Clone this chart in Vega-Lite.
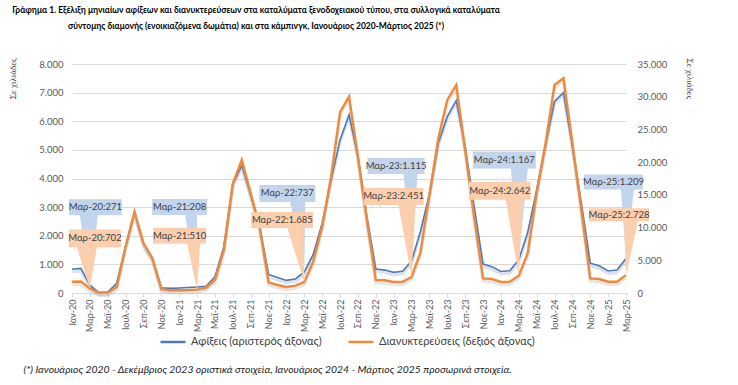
{
  "$schema": "https://vega.github.io/schema/vega-lite/v6.json",
  "width": 554,
  "height": 229,
  "autosize": {"type": "none"},
  "padding": {"left": 72, "top": 64, "right": 112, "bottom": 92},
  "background": "white",
  "config": {
    "font": "Lato",
    "view": {"stroke": null},
    "axis": {"labelFont": "Lato", "titleFont": "Lato", "labelColor": "#595959", "titleColor": "#404040", "titleFontWeight": "normal"},
    "text": {"font": "Lato"}
  },
  "title": {
    "text": "Γράφημα 1. Εξέλιξη μηνιαίων αφίξεων και διανυκτερεύσεων στα καταλύματα ξενοδοχειακού τύπου, στα συλλογικά καταλύματα",
    "subtitle": "σύντομης διαμονής (ενοικιαζόμενα δωμάτια) και στα κάμπινγκ, Ιανουάριος 2020-Μάρτιος 2025 (*)",
    "font": "Lato",
    "fontSize": 8.5,
    "fontWeight": "bold",
    "color": "#000000",
    "subtitleFont": "Lato",
    "subtitleFontSize": 8.5,
    "subtitleFontWeight": "bold",
    "subtitleColor": "#000000",
    "subtitlePadding": 7,
    "anchor": "middle",
    "frame": "group",
    "dx": -93,
    "offset": 28,
    "limit": 700
  },
  "data": {"values": [
    {"month":"Ιαν-20","arr":830,"stay":1730},
    {"month":"Φεβ-20","arr":860,"stay":1750},
    {"month":"Μαρ-20","arr":271,"stay":702,"arr_lbl":"Μαρ-20:271","stay_lbl":"Μαρ-20:702"},
    {"month":"Απρ-20","arr":20,"stay":60},
    {"month":"Μαϊ-20","arr":30,"stay":90},
    {"month":"Ιουν-20","arr":340,"stay":870},
    {"month":"Ιουλ-20","arr":1630,"stay":7080},
    {"month":"Αυγ-20","arr":2840,"stay":12420},
    {"month":"Σεπ-20","arr":1740,"stay":7600},
    {"month":"Οκτ-20","arr":1210,"stay":5300},
    {"month":"Νοε-20","arr":185,"stay":610},
    {"month":"Δεκ-20","arr":160,"stay":410},
    {"month":"Ιαν-21","arr":175,"stay":410},
    {"month":"Φεβ-21","arr":190,"stay":440},
    {"month":"Μαρ-21","arr":208,"stay":510,"arr_lbl":"Μαρ-21:208","stay_lbl":"Μαρ-21:510"},
    {"month":"Απρ-21","arr":230,"stay":810},
    {"month":"Μαϊ-21","arr":570,"stay":1990},
    {"month":"Ιουν-21","arr":1620,"stay":6570},
    {"month":"Ιουλ-21","arr":3810,"stay":16770},
    {"month":"Αυγ-21","arr":4450,"stay":20340},
    {"month":"Σεπ-21","arr":3430,"stay":15240},
    {"month":"Οκτ-21","arr":2320,"stay":10140},
    {"month":"Νοε-21","arr":650,"stay":1630},
    {"month":"Δεκ-21","arr":540,"stay":1220},
    {"month":"Ιαν-22","arr":440,"stay":920},
    {"month":"Φεβ-22","arr":490,"stay":1120},
    {"month":"Μαρ-22","arr":737,"stay":1685,"arr_lbl":"Μαρ-22:737","stay_lbl":"Μαρ-22:1.685"},
    {"month":"Απρ-22","arr":1350,"stay":4790},
    {"month":"Μαϊ-22","arr":2440,"stay":10140},
    {"month":"Ιουν-22","arr":3950,"stay":17780},
    {"month":"Ιουλ-22","arr":5350,"stay":27630},
    {"month":"Αυγ-22","arr":6220,"stay":30020},
    {"month":"Σεπ-22","arr":4770,"stay":20840},
    {"month":"Οκτ-22","arr":2670,"stay":11160},
    {"month":"Νοε-22","arr":840,"stay":1990},
    {"month":"Δεκ-22","arr":800,"stay":1940},
    {"month":"Ιαν-23","arr":720,"stay":1680},
    {"month":"Φεβ-23","arr":760,"stay":1700},
    {"month":"Μαρ-23","arr":1115,"stay":2451,"arr_lbl":"Μαρ-23:1.115","stay_lbl":"Μαρ-23:2.451"},
    {"month":"Απρ-23","arr":2150,"stay":6200},
    {"month":"Μαϊ-23","arr":3450,"stay":15000},
    {"month":"Ιουν-23","arr":5230,"stay":23650},
    {"month":"Ιουλ-23","arr":6160,"stay":29510},
    {"month":"Αυγ-23","arr":6720,"stay":31800},
    {"month":"Σεπ-23","arr":5120,"stay":21870},
    {"month":"Οκτ-23","arr":3020,"stay":11620},
    {"month":"Νοε-23","arr":1010,"stay":2240},
    {"month":"Δεκ-23","arr":920,"stay":2140},
    {"month":"Ιαν-24","arr":750,"stay":1680},
    {"month":"Φεβ-24","arr":780,"stay":1730},
    {"month":"Μαρ-24","arr":1167,"stay":2642,"arr_lbl":"Μαρ-24:1.167","stay_lbl":"Μαρ-24:2.642"},
    {"month":"Απρ-24","arr":2110,"stay":6070},
    {"month":"Μαϊ-24","arr":3600,"stay":15240},
    {"month":"Ιουν-24","arr":5170,"stay":22890},
    {"month":"Ιουλ-24","arr":6690,"stay":31800},
    {"month":"Αυγ-24","arr":7000,"stay":32830},
    {"month":"Σεπ-24","arr":5120,"stay":22890},
    {"month":"Οκτ-24","arr":3140,"stay":12690},
    {"month":"Νοε-24","arr":1040,"stay":2240},
    {"month":"Δεκ-24","arr":950,"stay":2140},
    {"month":"Ιαν-25","arr":770,"stay":1730},
    {"month":"Φεβ-25","arr":800,"stay":1730},
    {"month":"Μαρ-25","arr":1209,"stay":2728,"arr_lbl":"Μαρ-25:1.209","stay_lbl":"Μαρ-25:2.728"}
  ]},
  "encoding": {
    "x": {
      "field": "month", "type": "ordinal", "sort": null,
      "scale": {"type": "point", "padding": 0},
      "axis": {
        "values": ["Ιαν-20","Μαρ-20","Μαϊ-20","Ιουλ-20","Σεπ-20","Νοε-20","Ιαν-21","Μαρ-21","Μαϊ-21","Ιουλ-21","Σεπ-21","Νοε-21","Ιαν-22","Μαρ-22","Μαϊ-22","Ιουλ-22","Σεπ-22","Νοε-22","Ιαν-23","Μαρ-23","Μαϊ-23","Ιουλ-23","Σεπ-23","Νοε-23","Ιαν-24","Μαρ-24","Μαϊ-24","Ιουλ-24","Σεπ-24","Νοε-24","Ιαν-25","Μαρ-25"],
        "labelAngle": -90, "labelFontSize": 9, "labelPadding": 2,
        "domain": true, "domainColor": "#d9d9d9",
        "ticks": true, "tickColor": "#d9d9d9", "tickSize": 4,
        "grid": false,
        "title": "(*) Ιανουάριος 2020 - Δεκέμβριος 2023 οριστικά στοιχεία, Ιανουάριος 2024 - Μάρτιος 2025 προσωρινά στοιχεία.",
        "titleFontStyle": "italic", "titleFontSize": 10.4, "titleColor": "#1a1a1a", "titleLimit": 700,
        "titleAnchor": "start", "titleAlign": "left", "titleX": -49, "titleY": 79, "titleBaseline": "alphabetic"
      }
    }
  },
  "layer": [
    {
      "encoding": {
        "y": {
          "field": "arr", "type": "quantitative",
          "scale": {"domain": [0, 8000], "nice": false, "zero": true},
          "axis": {
            "values": [0,1000,2000,3000,4000,5000,6000,7000,8000],
            "labelExpr": "replace(format(datum.value, ','), ',', '.')",
            "labelFontSize": 9.5, "labelPadding": 9,
            "domain": false, "ticks": false,
            "grid": true, "gridColor": "#d9d9d9", "gridWidth": 1,
            "title": "Σε χιλιάδες", "titleFont": "Liberation Serif", "titleFontSize": 9,
            "titleAngle": -90, "titleAlign": "right", "titleBaseline": "middle", "titleX": -60, "titleY": -6
          }
        }
      },
      "layer": [
        {"mark": {"type": "line", "stroke": "#8ea2c4", "strokeWidth": 3, "opacity": 0.3, "yOffset": 2.5}, "encoding": {}},
        {"mark": {"type": "line", "strokeWidth": 1.6},
         "encoding": {"color": {"datum": "Αφίξεις (αριστερός άξονας)", "type": "nominal",
           "scale": {"domain": ["Αφίξεις (αριστερός άξονας)", "Διανυκτερεύσεις (δεξιός άξονας)"], "range": ["#4f78b5", "#ee8a3c"]},
           "legend": {"orient": "none", "legendX": 87, "legendY": 264, "direction": "horizontal", "title": null,
             "symbolType": "stroke", "symbolStrokeWidth": 2.5, "symbolSize": 625, "labelFontSize": 11, "labelColor": "#404040",
             "labelFont": "Lato", "columnPadding": 21, "labelOffset": 4, "labelLimit": 400}}}},
        {"mark": {"type": "point", "filled": true, "size": 4, "fill": "#c3d5ed", "opacity": 1, "strokeWidth": 0},
         "transform": [{"filter": "isValid(datum.arr_lbl)"}],
         "encoding": {"shape": {"field": "month", "type": "nominal", "legend": null,
           "scale": {"domain": ["Μαρ-20","Μαρ-21","Μαρ-22","Μαρ-23","Μαρ-24","Μαρ-25"],
             "range": ["M-21,-86H32V-70H8L0,0L-10,-70H-21Z",
                       "M-45,-88H10V-72H0L0,0L-12,-72H-45Z",
                       "M-45,-87H11V-70H1L0,0L-14,-70H-45Z",
                       "M-44,-103H13V-87H6L0,0L-8,-87H-44Z",
                       "M-46,-108H17V-91H9L0,0L-8,-91H-46Z",
                       "M-42,-84H17V-69H8L0,0L-5,-69H-42Z"]}}}},
        {"mark": {"type": "text", "dx": 5.5, "dy": -78, "fontSize": 9.5, "color": "#404040"}, "transform": [{"filter": "datum.month === 'Μαρ-20'"}], "encoding": {"text": {"field": "arr_lbl"}}},
        {"mark": {"type": "text", "dx": -17.5, "dy": -80, "fontSize": 9.5, "color": "#404040"}, "transform": [{"filter": "datum.month === 'Μαρ-21'"}], "encoding": {"text": {"field": "arr_lbl"}}},
        {"mark": {"type": "text", "dx": -17, "dy": -78.5, "fontSize": 9.5, "color": "#404040"}, "transform": [{"filter": "datum.month === 'Μαρ-22'"}], "encoding": {"text": {"field": "arr_lbl"}}},
        {"mark": {"type": "text", "dx": -15.5, "dy": -95, "fontSize": 9.5, "color": "#404040"}, "transform": [{"filter": "datum.month === 'Μαρ-23'"}], "encoding": {"text": {"field": "arr_lbl"}}},
        {"mark": {"type": "text", "dx": -14.5, "dy": -99.5, "fontSize": 9.5, "color": "#404040"}, "transform": [{"filter": "datum.month === 'Μαρ-24'"}], "encoding": {"text": {"field": "arr_lbl"}}},
        {"mark": {"type": "text", "dx": -12.5, "dy": -76.5, "fontSize": 9.5, "color": "#404040"}, "transform": [{"filter": "datum.month === 'Μαρ-25'"}], "encoding": {"text": {"field": "arr_lbl"}}}
      ]
    },
    {
      "encoding": {
        "y": {
          "field": "stay", "type": "quantitative",
          "scale": {"domain": [0, 35000], "nice": false, "zero": true},
          "axis": {
            "orient": "right",
            "values": [0,5000,10000,15000,20000,25000,30000,35000],
            "labelExpr": "replace(format(datum.value, ','), ',', '.')",
            "labelFontSize": 9.5, "labelPadding": 11,
            "domain": false, "ticks": false, "grid": false,
            "title": "Σε χιλιάδες", "titleFont": "Liberation Serif", "titleFontSize": 9,
            "titleAngle": 90, "titleAlign": "left", "titleBaseline": "middle", "titleX": 63, "titleY": -6
          }
        }
      },
      "layer": [
        {"mark": {"type": "line", "stroke": "#9a9a9a", "strokeWidth": 3.5, "opacity": 0.25, "yOffset": 2.5}, "encoding": {}},
        {"mark": {"type": "line", "strokeWidth": 2.4},
         "encoding": {"color": {"datum": "Διανυκτερεύσεις (δεξιός άξονας)", "type": "nominal"}}},
        {"mark": {"type": "point", "filled": true, "size": 4, "fill": "#fbcfae", "opacity": 1, "strokeWidth": 0},
         "transform": [{"filter": "isValid(datum.stay_lbl)"}],
         "encoding": {"shape": {"field": "month", "type": "nominal", "legend": null,
           "scale": {"domain": ["Μαρ-20","Μαρ-21","Μαρ-22","Μαρ-23","Μαρ-24","Μαρ-25"],
             "range": ["M-21,-59H31V-41H7L0,0L-13,-41H-21Z",
                       "M-44,-62H9V-46H3L0,0L-10,-46H-44Z",
                       "M-53,-70H9V-54H-1L0,0L-17,-54H-53Z",
                       "M-48,-89H12V-72H4L0,0L-13,-72H-48Z",
                       "M-50,-94H12V-76H4L0,0L-13,-76H-50Z",
                       "M-37,-67H23V-54H12L0,0L-2,-54H-37Z"]}}}},
        {"mark": {"type": "text", "dx": 5, "dy": -50, "fontSize": 9.5, "color": "#404040"}, "transform": [{"filter": "datum.month === 'Μαρ-20'"}], "encoding": {"text": {"field": "stay_lbl"}}},
        {"mark": {"type": "text", "dx": -17.5, "dy": -54, "fontSize": 9.5, "color": "#404040"}, "transform": [{"filter": "datum.month === 'Μαρ-21'"}], "encoding": {"text": {"field": "stay_lbl"}}},
        {"mark": {"type": "text", "dx": -22, "dy": -62, "fontSize": 9.5, "color": "#404040"}, "transform": [{"filter": "datum.month === 'Μαρ-22'"}], "encoding": {"text": {"field": "stay_lbl"}}},
        {"mark": {"type": "text", "dx": -18, "dy": -80.5, "fontSize": 9.5, "color": "#404040"}, "transform": [{"filter": "datum.month === 'Μαρ-23'"}], "encoding": {"text": {"field": "stay_lbl"}}},
        {"mark": {"type": "text", "dx": -19, "dy": -85, "fontSize": 9.5, "color": "#404040"}, "transform": [{"filter": "datum.month === 'Μαρ-24'"}], "encoding": {"text": {"field": "stay_lbl"}}},
        {"mark": {"type": "text", "dx": -7, "dy": -60.5, "fontSize": 9.5, "color": "#404040"}, "transform": [{"filter": "datum.month === 'Μαρ-25'"}], "encoding": {"text": {"field": "stay_lbl"}}}
      ]
    }
  ],
  "resolve": {"scale": {"y": "independent", "shape": "independent"}}
}
